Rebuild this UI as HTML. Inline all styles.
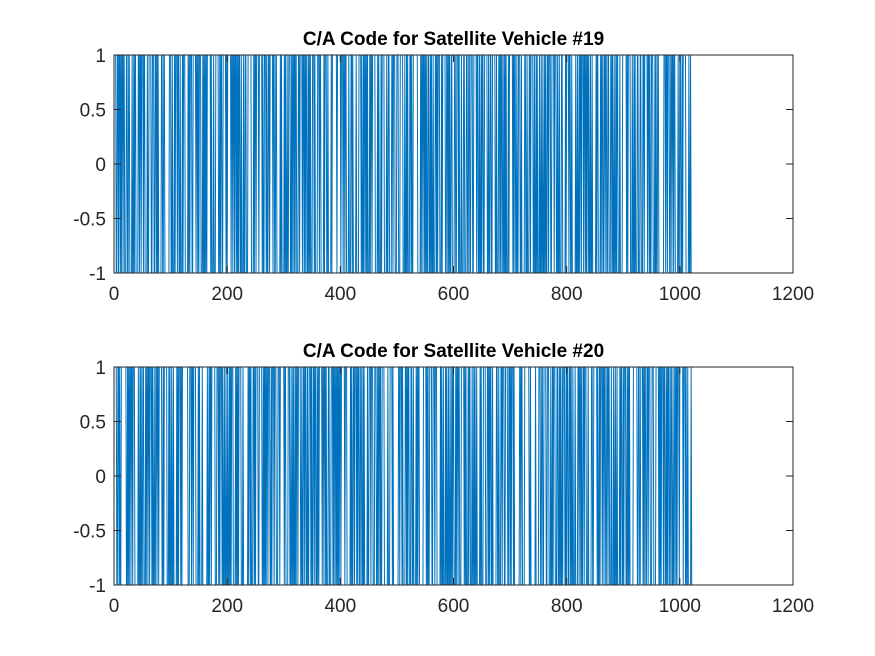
<!DOCTYPE html>
<html><head><meta charset="utf-8"><style>
html,body{margin:0;padding:0;background:#fff;}
svg{display:block;font-family:"Liberation Sans",Arial,sans-serif;}
</style></head><body>
<svg id="chart" width="875" height="656" viewBox="0 0 875 656" xmlns="http://www.w3.org/2000/svg"></svg>
<script>
// Data: satellite PRN numbers and their G2 phase-selector taps (GPS ICD)
const prnNumbers = [19, 20];
const g2Taps = [[3, 6], [4, 7]];
const xTicks = [0, 200, 400, 600, 800, 1000, 1200];
const yTicks = [-1, -0.5, 0, 0.5, 1];
const yTickLabels = ["-1", "-0.5", "0", "0.5", "1"];
const xTickLabels = ["0", "200", "400", "600", "800", "1000", "1200"];

// C/A code chip sequences (1023 chips each, values ±1), from the Gold code generator definition
const caCode19 = [];
const caCode20 = [];
(function(){
  const outs = [caCode19, caCode20];
  for (let k = 0; k < g2Taps.length; k++) {
    let g1 = new Array(10).fill(1), g2 = new Array(10).fill(1);
    const [s1, s2] = g2Taps[k];
    for (let i = 0; i < 1023; i++) {
      const chip = g1[9] ^ g2[s1 - 1] ^ g2[s2 - 1];
      outs[k].push(chip ? 1 : -1);
      const f1 = g1[2] ^ g1[9];
      const f2 = g2[1] ^ g2[2] ^ g2[5] ^ g2[7] ^ g2[8] ^ g2[9];
      g1 = [f1].concat(g1.slice(0, 9));
      g2 = [f2].concat(g2.slice(0, 9));
    }
  }
})();
const series = [caCode19, caCode20];

const NS = "http://www.w3.org/2000/svg";
const svg = document.getElementById("chart");
const L = 114, R = 793;
const panels = [{top: 55, bottom: 273}, {top: 367, bottom: 585}];
function mk(tag, attrs, parent){ const e = document.createElementNS(NS, tag); for (const a in attrs) e.setAttribute(a, attrs[a]); (parent||svg).appendChild(e); return e; }
const xScale = v => L + v / 1200 * (R - L);

panels.forEach((p, k) => {
  const yScale = v => p.bottom - (v + 1) / 2 * (p.bottom - p.top);
  const g = mk("g", {});
  
  
  mk("rect", {x: L, y: p.top, width: R - L, height: p.bottom - p.top, fill: "#fff"}, g);
  const data = series[k];
  let d = "";
  data.forEach((v, i) => { d += (i ? "L" : "M") + xScale(i + 1).toFixed(2) + " " + yScale(v).toFixed(2); });
  const path = mk("path", {d: d, fill: "none", stroke: "#0072BD", "stroke-width": "1"}, g);
  
  
  const box = mk("rect", {x: L, y: p.top, width: R - L, height: p.bottom - p.top, fill: "none", stroke: "#262626", "stroke-width": "1"}, g);
  
  
  xTicks.forEach((t, i) => {
    const x = xScale(t);
    mk("line", {x1: x, x2: x, y1: p.bottom, y2: p.bottom - 7, stroke: "#262626"}, g);
    mk("line", {x1: x, x2: x, y1: p.top, y2: p.top + 7, stroke: "#262626"}, g);
    const tx = mk("text", {x: x, y: p.bottom + 27, "text-anchor": "middle", "font-size": "19", fill: "#262626"}, g);
    tx.textContent = xTickLabels[i];
    
    
  });
  yTicks.forEach((t, i) => {
    const y = yScale(t);
    mk("line", {x1: L, x2: L + 7, y1: y, y2: y, stroke: "#262626"}, g);
    mk("line", {x1: R, x2: R - 7, y1: y, y2: y, stroke: "#262626"}, g);
    const ty = mk("text", {x: L - 8, y: y + 7, "text-anchor": "end", "font-size": "19", fill: "#262626"}, g);
    ty.textContent = yTickLabels[i];
    
    
  });
  const title = mk("text", {x: (L + R) / 2, y: p.top - 10, "text-anchor": "middle", "font-size": "19", "font-weight": "bold", fill: "#000"}, g);
  title.textContent = "C/A Code for Satellite Vehicle #" + prnNumbers[k];
  
  
});
</script>
</body></html>
